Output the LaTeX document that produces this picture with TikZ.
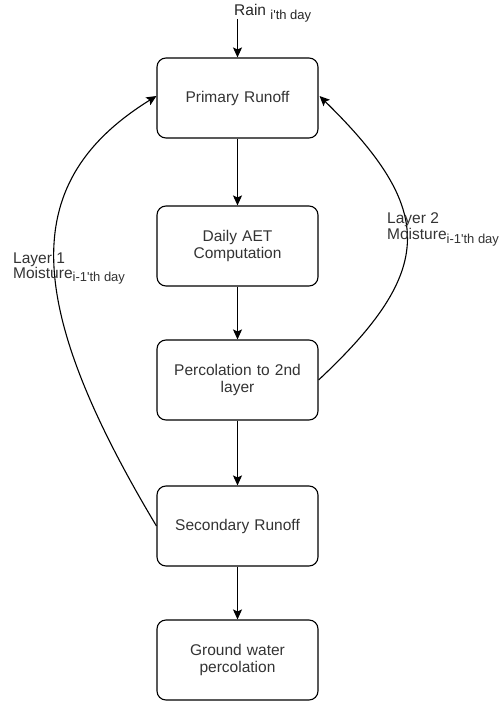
\documentclass[tikz,border=0pt]{standalone}
\usepackage{fontspec}
\newfontfamily\flowfont{Liberation Sans}
\usetikzlibrary{arrows.meta}
\newcommand{\subtext}[1]{\raisebox{-3.5pt}{\fontsize{13}{13}\selectfont #1}}
\begin{document}
\begin{tikzpicture}[x=1pt,y=-1pt,
  font=\flowfont\fontsize{15.5}{17}\selectfont,
  stepbox/.style={draw=black, line width=1.1pt, rounded corners=9pt,
    minimum width=161pt, minimum height=80pt, align=center,
    text=black!80, text width=150pt},
  flow/.style={line width=1.1pt, -{Stealth[length=10pt,width=9pt,inset=2pt]}},
  lbl/.style={text=black!80, align=left, inner sep=0pt}]
\useasboundingbox (0,0) rectangle (502,703);

% process boxes
\node[stepbox] (b1) at (237.5,98)  {Primary Runoff};
\node[stepbox] (b2) at (237.5,246) {Daily AET\\Computation};
\node[stepbox] (b3) at (237.5,380) {Percolation to 2nd\\layer};
\node[stepbox] (b4) at (237.5,526) {Secondary Runoff};
\node[stepbox] (b5) at (237.5,660) {Ground water\\percolation};

% rain input
\node[anchor=base west, inner sep=0pt, text=black!85] (rain) at (234,16)
  {Rain \subtext{i'th day}};
\coordinate (rtop) at (237.5,19);
\draw[flow] (rtop) -- (b1.north);

% main chain
\draw[flow] (b1) -- (b2);
\draw[flow] (b2) -- (b3);
\draw[flow] (b3) -- (b4);
\draw[flow] (b4) -- (b5);

% feedback loops
\draw[flow] (b4.west) .. controls (20,298) and (21,180) .. ([yshift=2pt]b1.west);
\draw[flow] (b3.east) .. controls (436,270) and (436,210) .. ([xshift=1pt,yshift=2pt]b1.east);

% loop labels
\node[lbl, anchor=base west] (l1a) at (13,263) {Layer 1};
\node[lbl, anchor=base west] (l1b) at (13,278) {Moisture\subtext{i-1'th day}};
\node[lbl, anchor=base west] (l2a) at (387,223) {Layer 2};
\node[lbl, anchor=base west] (l2b) at (387,240) {Moisture\subtext{i-1'th day}};
\end{tikzpicture}
\end{document}
